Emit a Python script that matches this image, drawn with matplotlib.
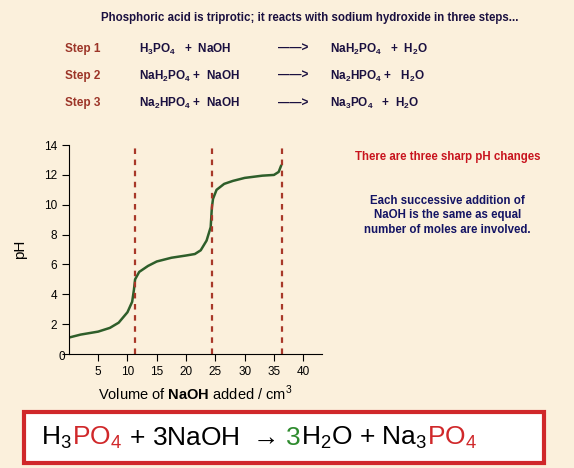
import matplotlib.pyplot as plt

plt.rcParams['font.family'] = ['Liberation Sans', 'DejaVu Sans']
plt.rcParams['mathtext.fontset'] = 'custom'
plt.rcParams['mathtext.rm'] = 'Liberation Sans'
plt.rcParams['mathtext.bf'] = 'Liberation Sans:bold'

# titration curve
volume = [0, 2, 5, 7, 8.5, 10, 10.8, 11.1, 11.3, 12, 13.5, 15, 17.5, 20, 21.5, 22.5, 23.5, 24.2, 24.4, 24.6, 25.2, 26.5, 28, 30, 33, 35, 35.8, 36.2]
ph = [1.1, 1.3, 1.5, 1.75, 2.1, 2.8, 3.5, 4.3, 5.0, 5.5, 5.9, 6.2, 6.45, 6.6, 6.7, 6.95, 7.6, 8.5, 9.8, 10.4, 11.0, 11.4, 11.6, 11.8, 11.95, 12.0, 12.2, 12.6]
equivalence = [11.2, 24.5, 36.3]
xticks = [5, 10, 15, 20, 25, 30, 35, 40]
yticks = [0, 2, 4, 6, 8, 10, 12, 14]

bg = '#fbf0dc'
fig = plt.figure(figsize=(5.74, 4.68), dpi=100, facecolor=bg)
ax = fig.add_axes([0.120, 0.2436, 0.441, 0.4464], facecolor=bg)

ax.plot(volume, ph, color='#2e5e2a', lw=1.8)
for v in equivalence:
    ax.axvline(v, color='#a83828', ls=(0, (2.5, 2.5)), lw=1.6)

ax.set_xlim(0, 43.2)
ax.set_ylim(0, 14)
ax.set_xticks(xticks)
ax.set_yticks(yticks)
ax.set_yticklabels([''] + [str(t) for t in yticks[1:]])
ax.tick_params(labelsize=8.5, length=5, direction='out')
ax.spines['top'].set_visible(False)
ax.spines['right'].set_visible(False)
fig.text(0.108, 0.238, '0', fontsize=8.5, ha='center', va='center')
ax.set_ylabel('pH', fontsize=11, labelpad=12)
ax.set_xlabel(r'Volume of $\mathbf{NaOH}$ added / cm$^{3}$', fontsize=10.5)

fig.text(0.54, 0.955, 'Phosphoric acid is triprotic; it reacts with sodium hydroxide in three steps...',
         fontsize=8.3, fontweight='bold', color='#1a1040', ha='center')
steps = ['Step 1', 'Step 2', 'Step 3']
lhs = [r'H$_\mathbf{3}$PO$_\mathbf{4}$   +  NaOH', r'NaH$_\mathbf{2}$PO$_\mathbf{4}$ +  NaOH', r'Na$_\mathbf{2}$HPO$_\mathbf{4}$ +  NaOH']
rhs = [r'NaH$_\mathbf{2}$PO$_\mathbf{4}$   +  H$_\mathbf{2}$O', r'Na$_\mathbf{2}$HPO$_\mathbf{4}$ +   H$_\mathbf{2}$O', r'Na$_\mathbf{3}$PO$_\mathbf{4}$   +  H$_\mathbf{2}$O']
for i in range(3):
    y = 0.895 - i * 0.058
    fig.text(0.113, y, steps[i], fontsize=8.5, fontweight='bold', color='#9c3528', va='center')
    fig.text(0.243, y, lhs[i], fontsize=8.5, fontweight='bold', color='#1a1040', va='center')
    fig.text(0.485, y, '——>', fontsize=8.5, fontweight='bold', color='#1a1040', va='center')
    fig.text(0.575, y, rhs[i], fontsize=8.5, fontweight='bold', color='#1a1040', va='center')

fig.text(0.78, 0.665, 'There are three sharp pH changes', fontsize=8.3, fontweight='bold',
         color='#c8141e', ha='center', va='center')
fig.text(0.78, 0.54, 'Each successive addition of\nNaOH is the same as equal\nnumber of moles are involved.',
         fontsize=8.3, fontweight='bold', color='#141464', ha='center', va='center', linespacing=1.3)

# bottom summary equation box
fig.patches.append(plt.Rectangle((0.042, 0.01), 0.905, 0.11, transform=fig.transFigure,
                                 facecolor='white', edgecolor='#d0282a', lw=3))
parts = [('H$_3$', 'black'), ('PO$_4$', '#d0282a'), (' + 3NaOH $\\rightarrow$ ', 'black'), ('3', '#2e8b2e'),
         ('H$_2$O + Na$_3$', 'black'), ('PO$_4$', '#d0282a')]
r = fig.canvas.get_renderer()
x = 0.072
for s, c in parts:
    t = fig.text(x, 0.065, s, fontsize=19, va='center', color=c)
    x += t.get_window_extent(r).width / fig.bbox.width

fig.savefig('out.png', dpi=100, facecolor=bg)
